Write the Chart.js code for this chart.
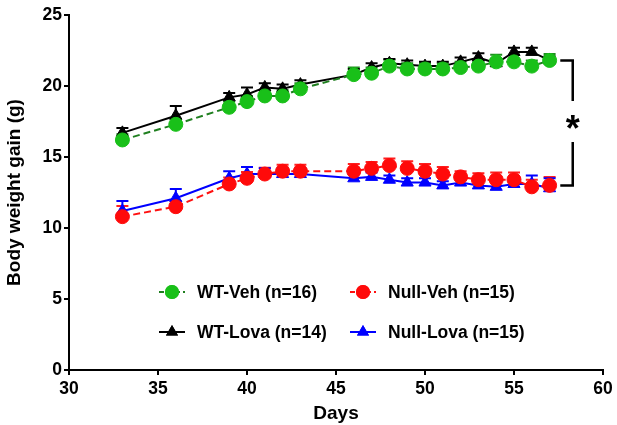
<!DOCTYPE html>
<html>
<head>
<meta charset="utf-8">
<script src="https://cdn.jsdelivr.net/npm/chart.js@4.4.0/dist/chart.umd.min.js"></script>
<style>
  html, body { margin: 0; padding: 0; background: #fff; }
  #wrap { position: relative; width: 617px; height: 425px; }
</style>
</head>
<body>
<div id="wrap"><canvas id="c" width="617" height="425"></canvas></div>
<script>
/* body weight gain — 4 groups, mean + SEM (upper bars only) */
const days = [33, 36, 39, 40, 41, 42, 43, 46, 47, 48, 49, 50, 51, 52, 53, 54, 55, 56, 57];

const wtVeh    = [16.2, 17.3, 18.5, 18.9, 19.3, 19.3, 19.8, 20.8, 20.9, 21.4, 21.2, 21.2, 21.2, 21.3, 21.4, 21.7, 21.7, 21.4, 21.8];
const wtVehErr = [0.4, 0.4, 0.4, 0.4, 0.4, 0.4, 0.4, 0.5, 0.4, 0.45, 0.4, 0.4, 0.4, 0.4, 0.4, 0.5, 0.5, 0.4, 0.45];

const wtLova    = [16.7, 17.9, 19.2, 19.4, 19.9, 19.8, 20.1, 20.8, 21.3, 21.6, 21.5, 21.4, 21.4, 21.7, 22.0, 21.6, 22.4, 22.4, 21.8];
const wtLovaErr = [0.35, 0.7, 0.3, 0.5, 0.3, 0.3, 0.3, 0.4, 0.3, 0.3, 0.3, 0.3, 0.3, 0.3, 0.3, 0.3, 0.3, 0.3, 0.3];

const nullVeh    = [10.8, 11.5, 13.1, 13.5, 13.8, 14.0, 14.0, 14.0, 14.2, 14.4, 14.2, 14.0, 13.8, 13.6, 13.4, 13.4, 13.4, 12.9, 13.0];
const nullVehErr = [0.75, 0.4, 0.45, 0.45, 0.45, 0.45, 0.45, 0.5, 0.45, 0.5, 0.5, 0.5, 0.5, 0.4, 0.45, 0.5, 0.5, 0.5, 0.6];

const nullLova    = [11.2, 12.1, 13.5, 13.8, 13.8, 13.8, 13.8, 13.5, 13.6, 13.4, 13.2, 13.2, 13.0, 13.2, 13.0, 12.9, 13.1, 13.1, 12.8];
const nullLovaErr = [0.7, 0.65, 0.5, 0.5, 0.4, 0.4, 0.4, 0.3, 0.3, 0.3, 0.3, 0.3, 0.3, 0.4, 0.4, 0.4, 0.4, 0.6, 0.7];

const xTicks = [30, 35, 40, 45, 50, 55, 60];
const yTicks = [0, 5, 10, 15, 20, 25];

const legendRows = [
  ["WT-Veh (n=16)", "Null-Veh (n=15)"],
  ["WT-Lova (n=14)", "Null-Lova (n=15)"],
];

const FONT = "'Liberation Sans', Arial, sans-serif";
const pts = (ys) => days.map((d, i) => ({ x: d, y: ys[i] }));

function series(label, ys, err, o) {
  return {
    label, data: pts(ys), err,
    borderColor: o.line, backgroundColor: o.fill,
    pointBackgroundColor: o.fill, pointBorderColor: o.fill,
    pointStyle: o.style, pointRadius: o.r, pointBorderWidth: 1,
    borderWidth: 2, borderDash: o.dash || [], tension: 0,
    errColor: o.err, order: o.order, clip: false,
  };
}

/* error bars (upward, with cap) drawn beneath the markers */
const errorBars = {
  id: "errorBars",
  beforeDatasetsDraw(chart) {
    const { ctx } = chart, ys = chart.scales.y;
    ctx.save();
    ctx.lineWidth = 2;
    chart.data.datasets.forEach((ds, di) => {
      const meta = chart.getDatasetMeta(di);
      ctx.strokeStyle = ds.errColor;
      meta.data.forEach((pt, i) => {
        const top = ys.getPixelForValue(ds.data[i].y + ds.err[i]);
        ctx.beginPath();
        ctx.moveTo(pt.x, pt.y); ctx.lineTo(pt.x, top);
        ctx.moveTo(pt.x - 6, top); ctx.lineTo(pt.x + 6, top);
        ctx.stroke();
      });
    });
    ctx.restore();
  },
};

/* in-plot legend + significance bracket */
const extras = {
  id: "extras",
  afterDraw(chart) {
    const { ctx } = chart, xs = chart.scales.x, ys = chart.scales.y;
    const order = [[0, 1], [2, 3]];
    const colX = [172, 363], rowY = [292, 332];
    ctx.save();
    order.forEach((row, r) => row.forEach((di, c) => {
      const ds = chart.data.datasets[di];
      const cx = colX[c], cy = rowY[r];
      ctx.strokeStyle = ds.borderColor; ctx.lineWidth = 2;
      ctx.setLineDash(ds.borderDash.length ? [5, 3] : []);
      ctx.beginPath(); ctx.moveTo(cx - 13, cy); ctx.lineTo(cx + 13, cy); ctx.stroke();
      ctx.setLineDash([]);
      ctx.fillStyle = ds.pointBackgroundColor;
      Chart.helpers.drawPoint(ctx, { pointStyle: ds.pointStyle, radius: ds.pointRadius, borderWidth: 0 }, cx, cy);
      ctx.fill();
      ctx.fillStyle = "#000";
      ctx.font = "bold 17.5px " + FONT;
      ctx.textBaseline = "middle"; ctx.textAlign = "left";
      ctx.fillText(legendRows[r][c], cx + 25, cy + 1);
    }));

    // bracket between WT and Null groups at day 57
    const bx = xs.getPixelForValue(58.3), bl = xs.getPixelForValue(57.6);
    const yTop = ys.getPixelForValue(wtVeh[wtVeh.length - 1]);
    const yBot = ys.getPixelForValue(nullVeh[nullVeh.length - 1]);
    const mid = (yTop + yBot) / 2;
    ctx.strokeStyle = "#000"; ctx.lineWidth = 2.5;
    ctx.beginPath();
    ctx.moveTo(bl, yTop); ctx.lineTo(bx, yTop); ctx.lineTo(bx, mid - 22);
    ctx.moveTo(bx, mid + 19); ctx.lineTo(bx, yBot); ctx.lineTo(bl, yBot);
    ctx.stroke();
    ctx.fillStyle = "#000";
    ctx.font = "bold 36px " + FONT;
    ctx.textAlign = "center"; ctx.textBaseline = "middle";
    ctx.fillText("*", bx, mid + 8);
    ctx.restore();
  },
};

new Chart(document.getElementById("c"), {
  type: "line",
  data: {
    datasets: [
      series("WT-Veh (n=16)", wtVeh, wtVehErr, { line: "#1f7f1f", fill: "#19c019", err: "#1f8f1f", style: "circle", r: 7, dash: [7, 4], order: 0 }),
      series("Null-Veh (n=15)", nullVeh, nullVehErr, { line: "#ff1010", fill: "#ff0a0a", err: "#ff2020", style: "circle", r: 7, dash: [7, 4], order: 1 }),
      series("WT-Lova (n=14)", wtLova, wtLovaErr, { line: "#000000", fill: "#000000", err: "#000000", style: "triangle", r: 7, order: 2 }),
      series("Null-Lova (n=15)", nullLova, nullLovaErr, { line: "#0000ff", fill: "#0000ff", err: "#0000ff", style: "triangle", r: 7, order: 3 }),
    ],
  },
  options: {
    responsive: false, animation: false,
    layout: { padding: { left: 0, right: 14, top: 15, bottom: 0 } },
    plugins: { legend: { display: false }, tooltip: { enabled: false } },
    scales: {
      x: {
        type: "linear", min: 30, max: 60,
        afterBuildTicks: (s) => { s.ticks = xTicks.map(v => ({ value: v })); },
        afterFit: (s) => { s.height = 55; },
        grid: { drawOnChartArea: false, drawTicks: true, tickLength: 5, color: "#000", lineWidth: 2 },
        border: { color: "#000", width: 2 },
        ticks: { color: "#000", padding: 4, font: { family: FONT, size: 17.5, weight: "bold" } },
        title: { display: true, text: "Days", color: "#000", padding: { top: 0, bottom: 0 }, font: { family: FONT, size: 19, weight: "bold" } },
      },
      y: {
        type: "linear", min: 0, max: 25,
        afterBuildTicks: (s) => { s.ticks = yTicks.map(v => ({ value: v })); },
        afterFit: (s) => { s.width = 69; },
        grid: { drawOnChartArea: false, drawTicks: true, tickLength: 5, color: "#000", lineWidth: 2 },
        border: { color: "#000", width: 2 },
        ticks: { color: "#000", padding: 2, font: { family: FONT, size: 17.5, weight: "bold" } },
        title: { display: true, text: "Body weight gain (g)", color: "#000", padding: { top: 3, bottom: 4 }, font: { family: FONT, size: 19, weight: "bold" } },
      },
    },
  },
  plugins: [errorBars, extras],
});
</script>
</body>
</html>
